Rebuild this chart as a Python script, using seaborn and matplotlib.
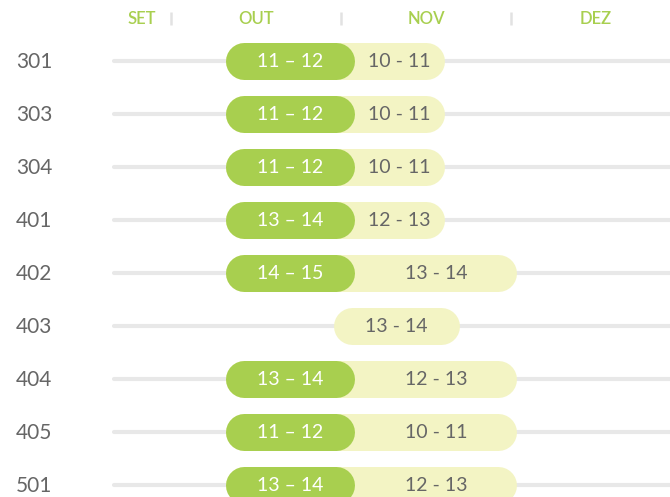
import matplotlib
matplotlib.use("Agg")
import matplotlib.pyplot as plt
import seaborn as sns
import pandas as pd

sns.set_theme(style="white")
plt.rcParams['font.family'] = ['Lato', 'DejaVu Sans']

# ---- data (x in months: 0 = SET start, 1 = OUT start, 2 = NOV start, 3 = DEZ start)
rows = ["301", "303", "304", "401", "402", "403", "404", "405", "501"]
green_start = [1.32, 1.32, 1.32, 1.32, 1.32, None, 1.32, 1.32, 1.32]
green_end = [2.08, 2.08, 2.08, 2.08, 2.08, None, 2.08, 2.08, 2.08]
green_labels = ["11 – 12", "11 – 12", "11 – 12", "13 – 14", "14 – 15", None, "13 – 14", "11 – 12", "13 – 14"]
light_start = [1.32, 1.32, 1.32, 1.32, 1.32, 1.955, 1.32, 1.32, 1.32]
light_end = [2.61, 2.61, 2.61, 2.61, 3.035, 2.695, 3.035, 3.035, 3.035]
light_labels = ["10 - 11", "10 - 11", "10 - 11", "12 - 13", "13 - 14", "13 - 14", "12 - 13", "10 - 11", "12 - 13"]
months = ["SET", "OUT", "NOV", "DEZ"]
month_label_pos = [0.83, 1.5, 2.5, 3.5]
month_bounds = [1, 2, 3]
track_start, track_end = 0.665, 4.0

GREEN = "#a8cf4f"
LIGHT = "#f3f4c4"
TRACK = "#e8e8e8"
GREY_TXT = "#666666"

df = pd.DataFrame(dict(row=rows, g0=green_start, g1=green_end, gl=green_labels,
                       l0=light_start, l1=light_end, ll=light_labels))
df["y"] = range(len(df))

W, H = 670, 497
DPI = 100
fig = plt.figure(figsize=(W / DPI, H / DPI), dpi=DPI)
ax = fig.add_axes([0, 0, 1, 1])
px_per_month = 170.0
px_per_row = 53.0
x0_px, y0_px = 171.0, 60.5
ax.set_xlim(1 - x0_px / px_per_month, 1 + (W - x0_px) / px_per_month)
ax.set_ylim((H - y0_px) / px_per_row, -y0_px / px_per_row)
ax.axis("off")
sns.despine(ax=ax, left=True, bottom=True)

pill_px = 37.0
pill_lw = pill_px * 72 / DPI
r = (pill_px / 2) / px_per_month  # cap radius in month units

# tracks
ax.hlines(df["y"], track_start, track_end, color=TRACK, lw=3.0, zorder=1, capstyle="round")

def pill(x0, x1, y, color, z):
    ax.hlines([y], x0 + r, x1 - r, color=color, lw=pill_lw, capstyle="round", zorder=z)

for _, d in df.iterrows():
    pill(d.l0, d.l1, d.y, LIGHT, 2)
    if pd.notna(d.g0):
        pill(d.g0, d.g1, d.y, GREEN, 3)
        ax.text((d.g0 + d.g1) / 2, d.y + 0.01, d.gl, ha="center", va="center",
                color="white", fontsize=14, zorder=4)
        lc = (d.g1 + d.l1) / 2
    else:
        lc = (d.l0 + d.l1) / 2
    ax.text(lc, d.y + 0.01, d.ll, ha="center", va="center",
            color=GREY_TXT, fontsize=14, zorder=4)
    ax.text(0.088, d.y + 0.02, d.row, ha="left", va="center",
            color=GREY_TXT, fontsize=15)

# month header
hy = (18.5 - y0_px) / px_per_row
for m, xp in zip(months, month_label_pos):
    ax.text(xp, hy, m, ha="center", va="center", color=GREEN,
            fontsize=12, fontweight="semibold")
ax.vlines(month_bounds, (12 - y0_px) / px_per_row, (25 - y0_px) / px_per_row,
          color="#e2e2e2", lw=1.8)

fig.savefig("out.png", dpi=DPI)
